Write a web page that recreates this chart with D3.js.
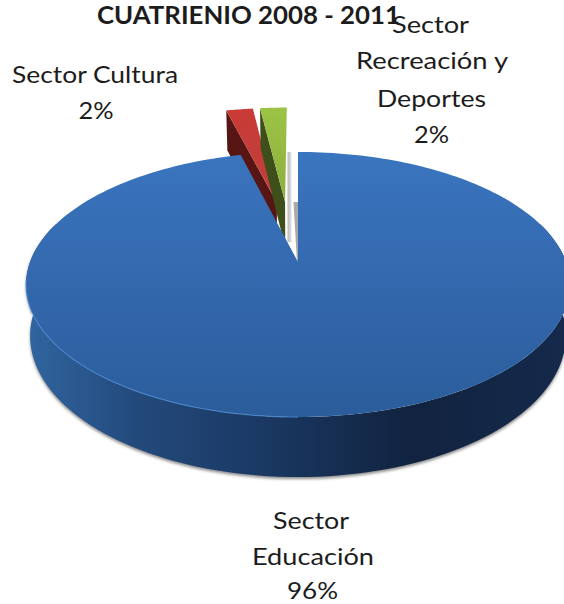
<!DOCTYPE html>
<html>
<head>
<meta charset="utf-8">
<style>
html,body{margin:0;padding:0;background:#fff;overflow:hidden}
svg{display:block}
text{font-family:Lato,"Open Sans",sans-serif;fill:#1c1c1c}
</style>
<script src="https://cdnjs.cloudflare.com/ajax/libs/d3/7.8.5/d3.min.js"></script>
</head>
<body>
<svg id="chart" width="564" height="604"></svg>
<script>
// Budget share by sector for the four-year term
const chartTitle = "CUATRIENIO 2008 - 2011";
const sectors = ["Sector Educación", "Sector Cultura", "Sector Recreación y Deportes"];
const shares = [96, 2, 2];

const svg = d3.select("#chart");
const defs = svg.append("defs");

// Perspective model of the disc: unit circle on a plane tilted towards the viewer
const view = {cx: 298, cy: 262, a: 268, b: 128.7, k: 0.17, drop: 49.8, shrink: 0.985};
function project(u, v, lower) {
  const w = 1 + view.k * v;
  const s = lower ? view.shrink : 1;
  return [
    view.cx + s * view.a * u / w,
    view.cy - view.b * v / w + (lower ? view.drop / w : 0)
  ];
}
const polar = (t, r, off) => [off[0] + r * Math.sin(t), off[1] + r * Math.cos(t)];

const pie = d3.pie().sort(null)(shares);
const rad = Math.PI / 180;
// Pulled-out slices: direction in degrees and distance in disc radii
const pull = [{dir: 0, dist: 0}, {dir: -9.7, dist: 0.51}, {dir: -5.9, dist: 0.51}];
const offsetOf = i => [pull[i].dist * Math.sin(pull[i].dir * rad), pull[i].dist * Math.cos(pull[i].dir * rad)];

const line = d3.line();
const samples = (a, b, n) => d3.range(n + 1).map(i => a + (b - a) * i / n);

function linearGradient(id, horizontal, x1, x2, stops) {
  const g = defs.append("linearGradient").attr("id", id).attr("gradientUnits", "userSpaceOnUse");
  if (horizontal) g.attr("x1", x1).attr("x2", x2).attr("y1", 0).attr("y2", 0);
  else g.attr("y1", x1).attr("y2", x2).attr("x1", 0).attr("x2", 0);
  stops.forEach(([o, c]) => g.append("stop").attr("offset", o).attr("stop-color", c));
}
linearGradient("topBlue", false, 152, 417, [[0, "#3a75bf"], [0.5, "#3368ad"], [1, "#2b5d9b"]]);
linearGradient("wallBlue", true, 28, 560, [[0, "#30659f"], [0.2, "#234a7c"], [0.45, "#1a3862"], [0.72, "#11233f"], [1, "#14294b"]]);
linearGradient("topRed", false, 105, 205, [[0, "#c93a36"], [1, "#c0403c"]]);
linearGradient("topGreen", false, 105, 205, [[0, "#9cc444"], [1, "#8cae40"]]);
linearGradient("grayFace", true, 287, 292, [[0, "#b4b4b4"], [1, "#e6e6e6"]]);
defs.append("filter").attr("id", "soft").attr("x", "-5%").attr("y", "-5%").attr("width", "110%").attr("height", "110%")
  .append("feGaussianBlur").attr("stdDeviation", 1.6);

// Outer wall of the disc, running round the front between the two side extremes
const wallTop = samples(72 * rad, 288 * rad, 120);
const wallPoints = wallTop.map(t => project(Math.sin(t), Math.cos(t), false))
  .concat(wallTop.slice().reverse().map(t => project(Math.sin(t), Math.cos(t), true)));

svg.append("path").attr("d", line(wallPoints) + "Z")
  .attr("transform", "translate(0,2)")
  .attr("fill", "#8a8a8a").attr("filter", "url(#soft)");

// Pulled-out slices come first: the main slice overlaps their lower parts
const sliceFill = [null, "url(#topRed)", "url(#topGreen)"];
const faceFill = [null, "#571613", "#3f4f1b"];
[1, 2].forEach(i => {
  const d = pie[i], off = offsetOf(i);
  // the pie runs clockwise from twelve o'clock; these slices close the circle
  const t0 = d.startAngle, t1 = d.endAngle;
  const hub = off;
  const rim = polar(t0, 1, off);
  const face = [project(rim[0], rim[1], false), project(hub[0], hub[1], false),
                project(hub[0], hub[1], true), project(rim[0], rim[1], true)];
  svg.append("path").attr("d", line(face) + "Z").attr("fill", faceFill[i]);
  const outline = [project(hub[0], hub[1], false)].concat(
    samples(t0, t1, 12).map(t => { const p = polar(t, 1, off); return project(p[0], p[1], false); }));
  svg.append("path").attr("d", line(outline) + "Z").attr("fill", sliceFill[i]);
});

// Grey shading visible through the gap beside the main slice
const hubTop = project(0, 0, false);
const rimTop = project(0, 1, false);
svg.append("path").attr("fill", "url(#grayFace)")
  .attr("d", line([[rimTop[0] - 10.5, rimTop[1]], [rimTop[0] - 6.5, rimTop[1]], [rimTop[0] - 6.5, hubTop[1] - 20], [rimTop[0] - 10.5, hubTop[1] - 20]]) + "Z");
svg.append("path").attr("fill", "#a9a9a9")
  .attr("d", line([[hubTop[0] - 4.5, hubTop[1] - 60], [hubTop[0], hubTop[1] - 60], [hubTop[0], hubTop[1]], [hubTop[0] - 1, hubTop[1]]]) + "Z");

// Main slice: wall then top surface
svg.append("path").attr("d", line(wallPoints) + "Z").attr("fill", "url(#wallBlue)");
const main = pie[0];
const mainOutline = [project(0, 0, false)].concat(
  samples(main.startAngle, main.endAngle, 240).map(t => project(Math.sin(t), Math.cos(t), false)));
svg.append("path").attr("d", line(mainOutline) + "Z").attr("fill", "url(#topBlue)");

// Light bevel along the lower left rim
svg.append("path").attr("fill", "none").attr("stroke", "#4a87cf").attr("stroke-width", 1.2).attr("stroke-opacity", 0.8)
  .attr("d", line(samples(180 * rad, 262 * rad, 60).map(t => project(Math.sin(t), Math.cos(t), false))));

// Texts
svg.append("text").attr("x", 248.5).attr("y", 24)
  .attr("text-anchor", "middle").attr("font-size", 25).attr("font-weight", 700)
  .attr("textLength", 303).attr("lengthAdjust", "spacingAndGlyphs").text(chartTitle);

const labelRows = [
  {rows: [["Sector Cultura", 95, 83, 166], [shares[1] + "%", 96, 119, 35]]},
  {rows: [["Sector", 430.5, 33, 77], ["Recreación y", 432, 69, 152], ["Deportes", 431.5, 107, 109], [shares[2] + "%", 431.5, 143, 35]]},
  {rows: [["Sector", 311, 529, 76], ["Educación", 313, 565, 122], [shares[0] + "%", 312.5, 599, 51]]}
];
labelRows.forEach(block => block.rows.forEach(([txt, x, y, len]) => {
  svg.append("text").attr("x", x).attr("y", y).attr("text-anchor", "middle")
    .attr("font-size", 24).attr("textLength", len).attr("lengthAdjust", "spacingAndGlyphs").text(txt);
}));
</script>
</body>
</html>
